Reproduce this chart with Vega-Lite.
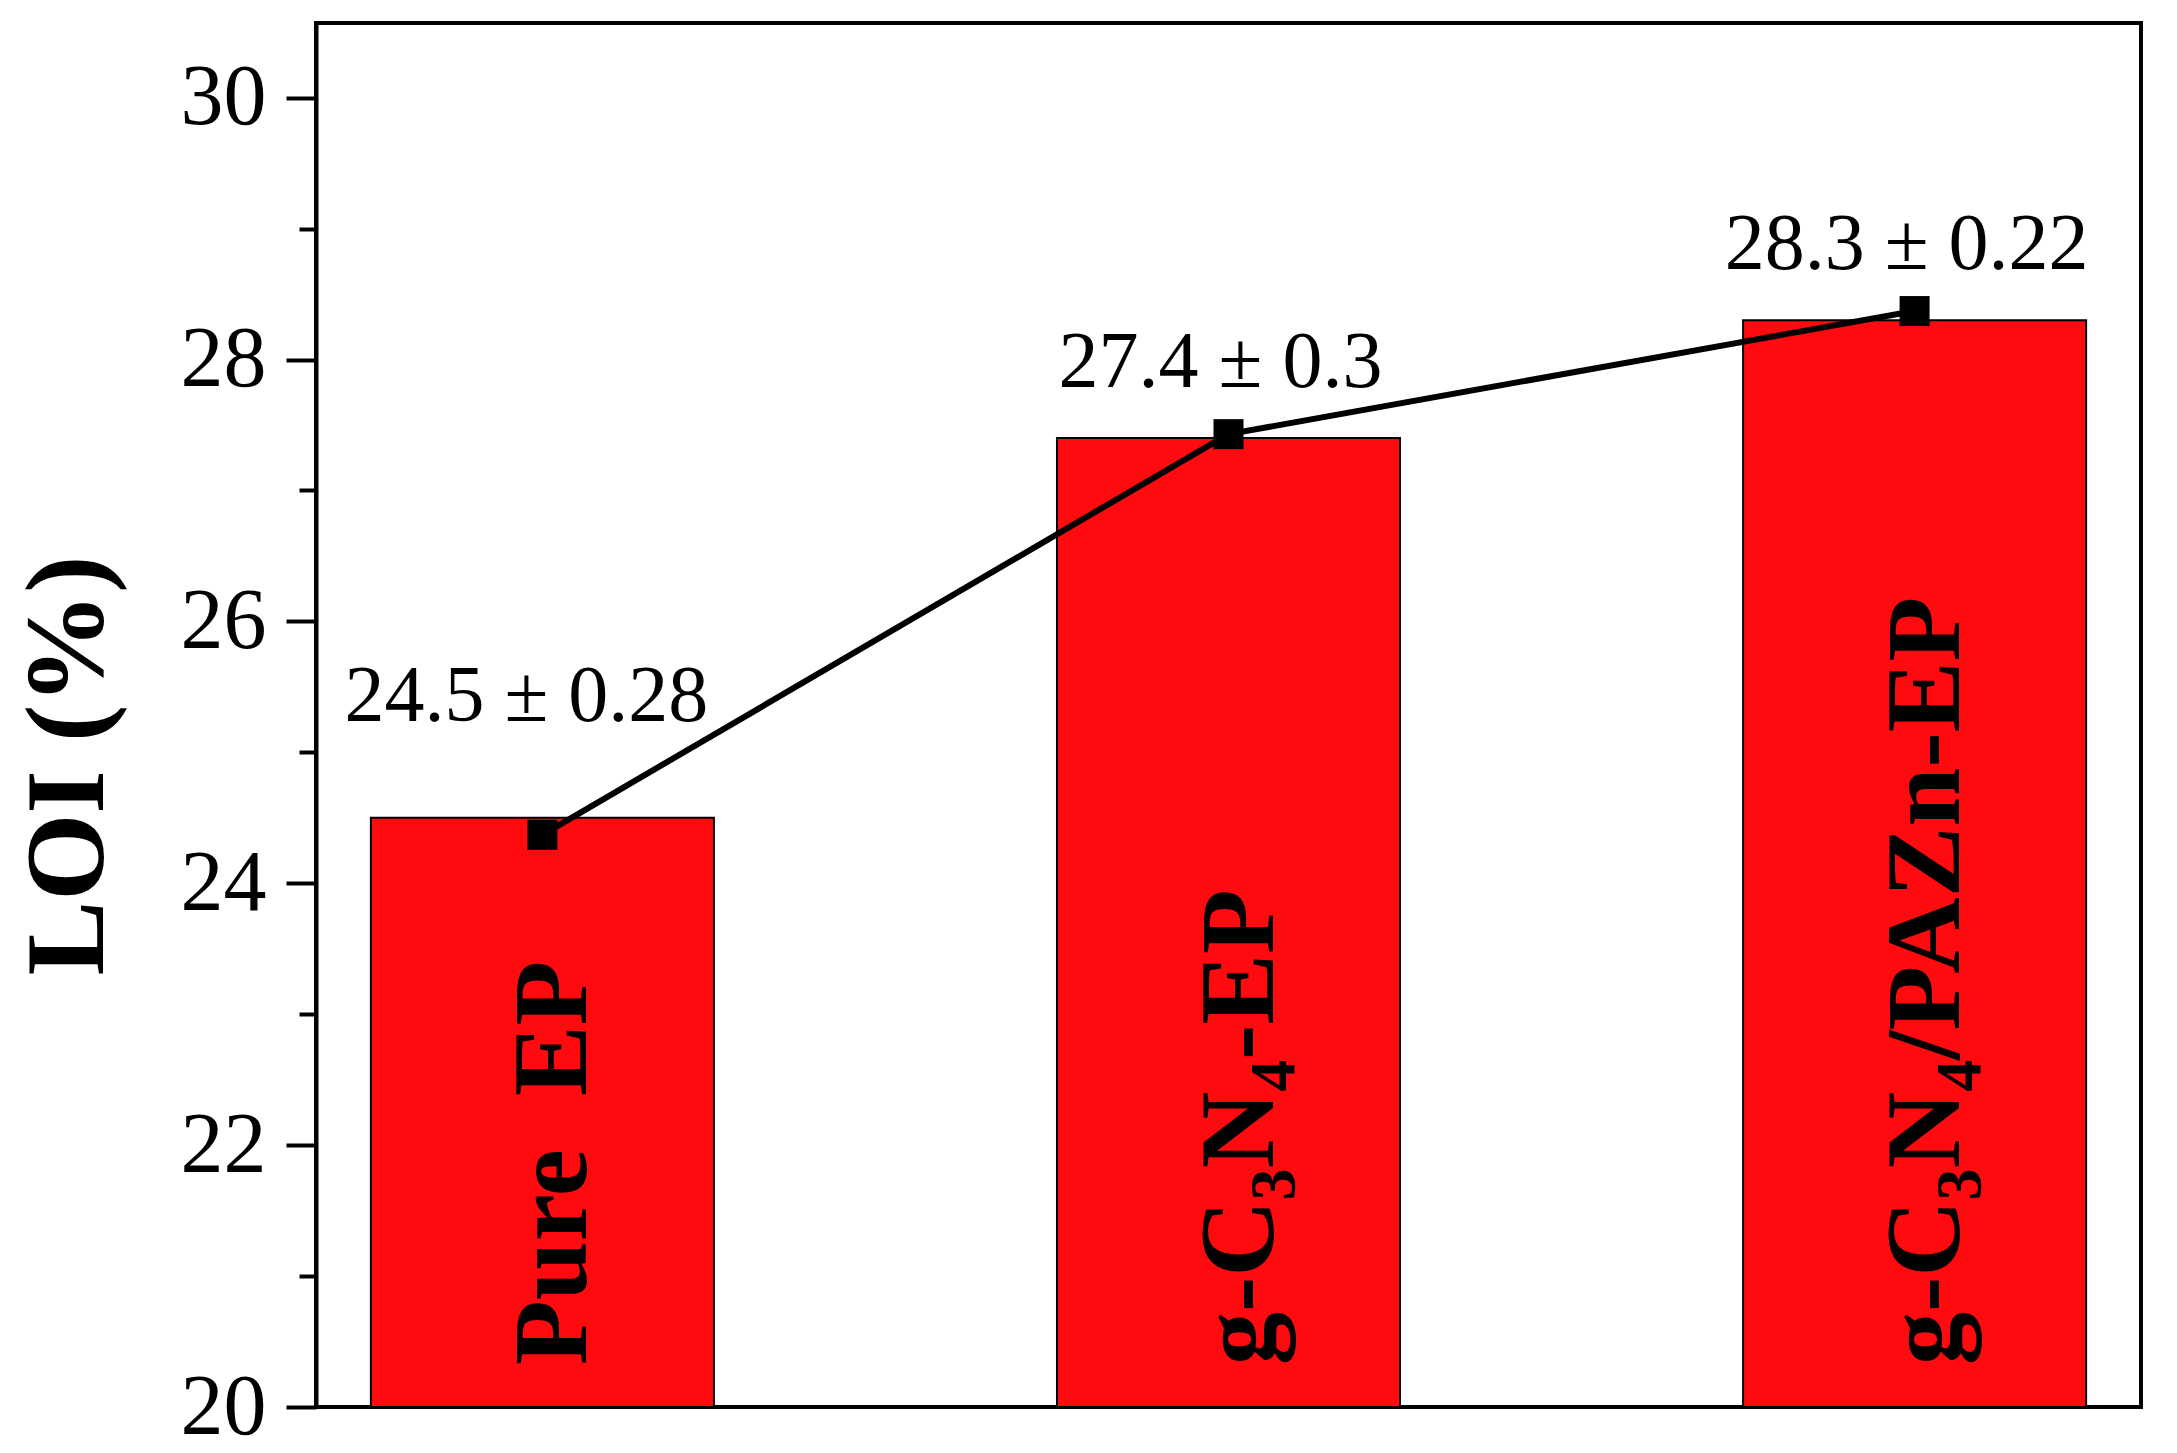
{
  "$schema": "https://vega.github.io/schema/vega-lite/v6.json",
  "autosize": {"type": "none"},
  "padding": {"left": 316, "top": 23, "right": 36, "bottom": 46},
  "width": 1825,
  "height": 1384,
  "background": "white",
  "config": {
    "view": {"stroke": "black", "strokeWidth": 4},
    "axis": {"grid": false}
  },
  "data": {
    "values": [
      {"sample": "Pure EP", "name": "Pure\u00a0 EP", "LOI": 24.5, "err": 0.28, "marker": 24.37, "label": "24.5 ± 0.28"},
      {"sample": "g-C3N4-EP", "name": "g-C₃N₄-EP", "LOI": 27.4, "err": 0.3, "marker": 27.43, "label": "27.4 ± 0.3"},
      {"sample": "g-C3N4/PAZn-EP", "name": "g-C₃N₄/PAZn-EP", "LOI": 28.3, "err": 0.22, "marker": 28.37, "label": "28.3 ± 0.22"}
    ]
  },
  "encoding": {
    "x": {
      "field": "sample", "type": "nominal", "sort": null,
      "scale": {"paddingInner": 0.5, "paddingOuter": 0.08},
      "axis": null
    }
  },
  "layer": [
    {
      "mark": {"type": "bar", "fill": "#ff0a0f", "stroke": "black", "strokeWidth": 2},
      "encoding": {
        "y": {
          "field": "LOI", "type": "quantitative",
          "scale": {"domain": [20, 30.57], "nice": false, "zero": false},
          "axis": {
            "orient": "left",
            "values": [20, 22, 24, 26, 28, 30],
            "tickSize": 30, "tickWidth": 4, "tickColor": "black",
            "domainColor": "black", "domainWidth": 4,
            "labelFont": "Liberation Serif", "labelFontSize": 86, "labelColor": "black",
            "labelPadding": 20, "labelFlush": false, "labelBound": false,
            "title": "LOI (%)",
            "titleFont": "Liberation Serif", "titleFontWeight": "bold", "titleFontSize": 112,
            "titleColor": "black", "titleAngle": 270, "titleAlign": "center",
            "titleBaseline": "alphabetic", "titleX": -214, "titleY": 742
          }
        },
        "y2": {"datum": 20}
      }
    },
    {
      "mark": {"type": "line", "color": "black", "strokeWidth": 6},
      "encoding": {
        "y": {
          "field": "marker", "type": "quantitative",
          "axis": {
            "orient": "left",
            "values": [21, 23, 25, 27, 29],
            "tickSize": 17, "tickWidth": 4, "tickColor": "black",
            "labels": false, "domain": false, "title": null
          }
        }
      }
    },
    {
      "mark": {"type": "point", "shape": "square", "size": 900, "filled": true, "color": "black", "opacity": 1},
      "encoding": {
        "y": {"field": "marker", "type": "quantitative", "axis": null}
      }
    },
    {
      "transform": [{"filter": "datum.sample === 'Pure EP'"}],
      "mark": {"type": "text", "font": "Liberation Serif", "fontSize": 80, "color": "black", "baseline": "alphabetic", "align": "center", "dy": -97, "dx": -16},
      "encoding": {
        "y": {"field": "LOI", "type": "quantitative", "axis": null},
        "text": {"field": "label"}
      }
    },
    {
      "transform": [{"filter": "datum.sample !== 'Pure EP'"}],
      "mark": {"type": "text", "font": "Liberation Serif", "fontSize": 80, "color": "black", "baseline": "alphabetic", "align": "center", "dy": -51, "dx": -8},
      "encoding": {
        "y": {"field": "LOI", "type": "quantitative", "axis": null},
        "text": {"field": "label"}
      }
    },
    {
      "mark": {"type": "text", "font": "Liberation Serif", "fontWeight": "bold", "fontSize": 106, "color": "black", "angle": 270, "align": "left", "baseline": "alphabetic", "dx": 42, "dy": 44},
      "encoding": {
        "y": {"datum": 20, "type": "quantitative", "axis": null},
        "text": {"field": "name"}
      }
    }
  ],
  "resolve": {"axis": {"y": "independent"}}
}
